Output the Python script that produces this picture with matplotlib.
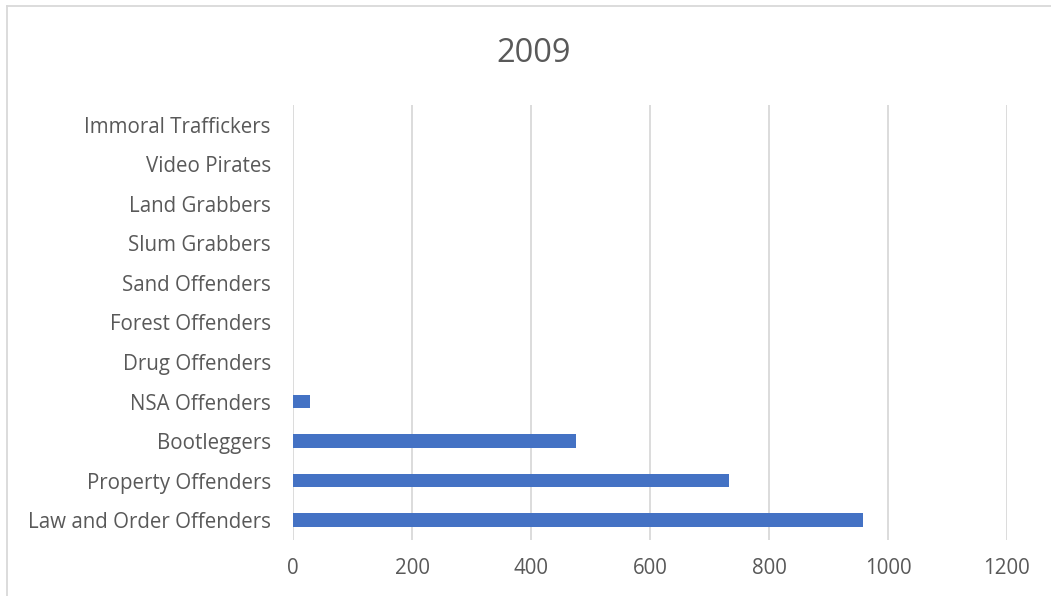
import matplotlib
matplotlib.use("Agg")
import matplotlib.pyplot as plt
from matplotlib.lines import Line2D

categories = [
    "Law and Order Offenders",
    "Property Offenders",
    "Bootleggers",
    "NSA Offenders",
    "Drug Offenders",
    "Forest Offenders",
    "Sand Offenders",
    "Slum Grabbers",
    "Land Grabbers",
    "Video Pirates",
    "Immoral Traffickers",
]
values = [958, 733, 476, 28, 0, 0, 0, 0, 0, 0, 0]
xticks = [0, 200, 400, 600, 800, 1000, 1200]
title = "2009"

plt.rcParams["font.family"] = ["Open Sans", "DejaVu Sans"]
text_color = "#595959"
grid_color = "#d9d9d9"
bar_color = "#4472c4"

fig = plt.figure(figsize=(10.51, 5.96), dpi=100)
ax = fig.add_axes([0.2788, 0.0940, 0.6793, 0.7298])

pos = list(range(len(categories)))
ax.barh(pos, values, height=0.34, color=bar_color, zorder=3)

ax.set_xlim(0, 1200)
ax.set_ylim(-0.5, len(categories) - 0.5)
ax.set_xticks(xticks)
ax.set_xticklabels([str(t) for t in xticks])
ax.set_yticks(pos)
ax.set_yticklabels(categories)

ax.grid(axis="x", color=grid_color, linewidth=1.3, zorder=0)
for s in ax.spines.values():
    s.set_visible(False)
ax.tick_params(axis="both", length=0, colors=text_color, labelsize=14.8)
ax.tick_params(axis="x", pad=13)
ax.tick_params(axis="y", pad=16)

fig.text(534 / 1051, 1 - 53 / 596, title, ha="center", va="center",
         fontsize=23.5, color=text_color)

# chart frame (top and left edges)
fig.add_artist(Line2D([7 / 1051, 7 / 1051], [0, 1 - 6 / 596], transform=fig.transFigure,
                      color=grid_color, linewidth=1.3))
fig.add_artist(Line2D([7 / 1051, 1], [1 - 6 / 596, 1 - 6 / 596], transform=fig.transFigure,
                      color=grid_color, linewidth=1.3))

fig.savefig("out.png", dpi=100)
